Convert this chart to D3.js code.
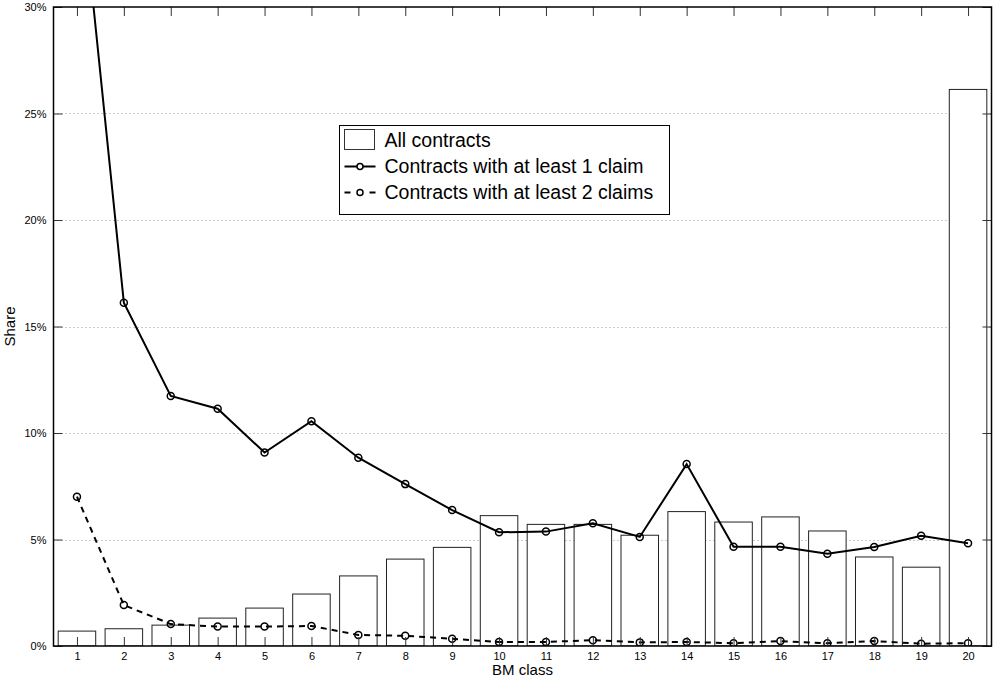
<!DOCTYPE html>
<html>
<head>
<meta charset="utf-8">
<script src="https://cdn.jsdelivr.net/npm/d3@7/dist/d3.min.js"></script>
<style>
  body { margin: 0; background: #fff; }
  text { font-family: "Liberation Sans", Arial, sans-serif; fill: #000; }
</style>
</head>
<body>
<svg id="chart" width="995" height="684"></svg>
<script>
// data (shares in %)
var classes = d3.range(1, 21);
var allContracts = [0.70, 0.81, 0.98, 1.31, 1.78, 2.44, 3.29, 4.08, 4.63, 6.12,
                    5.71, 5.71, 5.20, 6.31, 5.82, 6.06, 5.40, 4.18, 3.70, 26.13];
var atLeast1 = [37.6, 16.12, 11.74, 11.14, 9.08, 10.55, 8.84, 7.60, 6.38, 5.34,
                5.37, 5.76, 5.12, 8.54, 4.66, 4.66, 4.33, 4.65, 5.18, 4.82];
var atLeast2 = [7.01, 1.92, 1.03, 0.91, 0.91, 0.94, 0.52, 0.48, 0.34, 0.19,
                0.19, 0.27, 0.17, 0.19, 0.13, 0.23, 0.13, 0.23, 0.11, 0.13];
var yTicks = [0, 5, 10, 15, 20, 25, 30];
var legendLabels = ["All contracts", "Contracts with at least 1 claim", "Contracts with at least 2 claims"];

(function(){
var svg = d3.select("#chart");
var pLeft = 53.5, pRight = 991.5, pTop = 7, pBottom = 646;

var x = d3.scaleLinear().domain([0.5, 20.5]).range([pLeft, pRight]);
var y = d3.scaleLinear().domain([0, 30]).range([pBottom, pTop]);
var bw = (x(1) - x(0)) * 0.8;

svg.append("clipPath").attr("id", "clip")
   .append("rect").attr("x", pLeft).attr("y", pTop)
   .attr("width", pRight - pLeft).attr("height", pBottom - pTop);

// dotted grid
svg.append("g").selectAll("line")
   .data(yTicks.filter(function(d){ return d > 0 && d < 30; }))
   .enter().append("line")
   .attr("x1", pLeft).attr("x2", pRight)
   .attr("y1", function(d){ return Math.round(y(d)) + 0.5; })
   .attr("y2", function(d){ return Math.round(y(d)) + 0.5; })
   .attr("stroke", "#999").attr("stroke-width", 1)
   .attr("stroke-dasharray", "1,3");

// bars
var plot = svg.append("g").attr("clip-path", "url(#clip)");
plot.selectAll("rect.bar")
    .data(allContracts)
    .enter().append("rect")
    .attr("class", "bar")
    .attr("x", function(d, i){ return x(classes[i]) - bw / 2; })
    .attr("y", function(d){ return y(d); })
    .attr("width", bw)
    .attr("height", function(d){ return y(0) - y(d); })
    .attr("fill", "#fff")
    .attr("stroke", "#222")
    .attr("stroke-width", 1);

// ticks (inward, mirrored)
var axB = d3.axisBottom(x).tickValues(classes).tickSize(-9).tickPadding(6).tickFormat(d3.format("d"));
var axT = d3.axisTop(x).tickValues(classes).tickSize(-9).tickFormat("");
var axL = d3.axisLeft(y).tickValues(yTicks).tickSize(-9).tickPadding(7).tickFormat(function(d){ return d + "%"; });
var axR = d3.axisRight(y).tickValues(yTicks).tickSize(-9).tickFormat("");

function styleAxis(g) {
  g.select(".domain").remove();
  g.selectAll(".tick line").attr("stroke", "#333").attr("stroke-width", 1);
  g.selectAll(".tick text").attr("font-size", 11).attr("font-family", "Liberation Sans, Arial, sans-serif");
}
svg.append("g").attr("transform", "translate(0," + pBottom + ")").call(axB).call(styleAxis);
svg.append("g").attr("transform", "translate(0," + pTop + ")").call(axT).call(styleAxis);
svg.append("g").attr("transform", "translate(" + pLeft + ",0)").call(axL).call(styleAxis);
svg.append("g").attr("transform", "translate(" + pRight + ",0)").call(axR).call(styleAxis);

// lines
var line = d3.line()
   .x(function(d, i){ return x(classes[i]); })
   .y(function(d){ return y(d); });

plot.append("path").datum(atLeast1)
    .attr("d", line).attr("fill", "none")
    .attr("stroke", "#000").attr("stroke-width", 2);
plot.append("path").datum(atLeast2)
    .attr("d", line).attr("fill", "none")
    .attr("stroke", "#000").attr("stroke-width", 2)
    .attr("stroke-dasharray", "6,5");

[atLeast1, atLeast2].forEach(function(series){
  plot.append("g").selectAll("circle")
      .data(series)
      .enter().append("circle")
      .attr("cx", function(d, i){ return x(classes[i]); })
      .attr("cy", function(d){ return y(d); })
      .attr("r", 3.5)
      .attr("fill", "none")
      .attr("stroke", "#000")
      .attr("stroke-width", 1.5);
});

// frame
svg.append("rect")
   .attr("x", pLeft).attr("y", pTop)
   .attr("width", pRight - pLeft).attr("height", pBottom - pTop)
   .attr("fill", "none").attr("stroke", "#000").attr("stroke-width", 1.5);

// axis titles
svg.append("text")
   .attr("x", (pLeft + pRight) / 2).attr("y", 675)
   .attr("text-anchor", "middle").attr("font-size", 15)
   .text("BM class");
svg.append("text")
   .attr("transform", "translate(15," + ((pTop + pBottom) / 2) + ") rotate(-90)")
   .attr("text-anchor", "middle").attr("font-size", 15)
   .text("Share");

// legend
var lg = svg.append("g").attr("transform", "translate(339.5,125.5)");
lg.append("rect").attr("width", 330).attr("height", 89)
  .attr("fill", "#fff").attr("stroke", "#000").attr("stroke-width", 1);
var rowY = [14.5, 41, 67];
lg.append("rect").attr("x", 5).attr("y", 4).attr("width", 30).attr("height", 20)
  .attr("fill", "#fff").attr("stroke", "#333");
lg.append("line").attr("x1", 5).attr("x2", 36).attr("y1", rowY[1]).attr("y2", rowY[1])
  .attr("stroke", "#000").attr("stroke-width", 2);
lg.append("line").attr("x1", 5).attr("x2", 36).attr("y1", rowY[2]).attr("y2", rowY[2])
  .attr("stroke", "#000").attr("stroke-width", 2).attr("stroke-dasharray", "6,6.5");
lg.selectAll("circle").data([rowY[1], rowY[2]]).enter().append("circle")
  .attr("cx", 20.5).attr("cy", function(d){ return d; }).attr("r", 3)
  .attr("fill", "#fff").attr("stroke", "#000").attr("stroke-width", 1.5);
lg.selectAll("text.lab").data(legendLabels).enter().append("text")
  .attr("class", "lab")
  .attr("x", 45).attr("y", function(d, i){ return rowY[i]; })
  .attr("dy", "0.35em").attr("font-size", 19.5)
  .text(function(d){ return d; });
})();
</script>
</body>
</html>
